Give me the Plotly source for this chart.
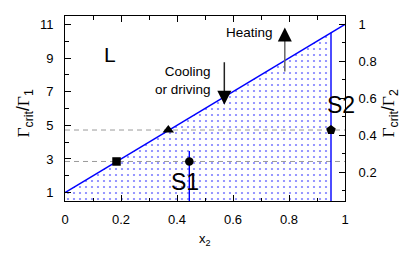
import plotly.graph_objects as go

# data
line_x = [0.0, 1.0]
line_y = [1.0, 11.0]
fill_x = [0.0, 0.95]
fill_y = [1.0, 10.5]
dash_levels = [2.85, 4.72]
square_pt = ([0.184], [2.85])
triangle_pt = ([0.369], [4.72])
circle_pt = ([0.444], [2.85])
pentagon_pt = ([0.95], [4.72])
s1_x = [0.444, 0.444]
s1_y = [0.5, 3.47]
s2_x = [0.95, 0.95]
s2_y = [0.5, 10.5]
heat_x = [0.785, 0.785]
heat_y = [8.2, 10.82]
cool_x = [0.569, 0.569]
cool_y = [8.75, 6.22]
x_ticks = [0, 0.2, 0.4, 0.6, 0.8, 1]
y_ticks = [1, 3, 5, 7, 9, 11]
y2_ticks = [0.2, 0.4, 0.6, 0.8, 1]

BLUE = "#0000ff"
FONT = "Liberation Sans, Arial, sans-serif"

fig = go.Figure()
fig.add_trace(go.Scatter(x=fill_x, y=fill_y, mode="none", fill="tozeroy",
                         fillcolor="rgba(0,0,0,0)",
                         fillpattern=dict(shape=".", fgcolor=BLUE, bgcolor="rgba(0,0,0,0)",
                                          size=6, solidity=0.11),
                         hoverinfo="skip"))
for lv in dash_levels:
    fig.add_trace(go.Scatter(x=[0, 1], y=[lv, lv], mode="lines",
                             line=dict(color="#9a9a9a", width=1, dash="5px,4px")))
fig.add_trace(go.Scatter(x=line_x, y=line_y, mode="lines", line=dict(color=BLUE, width=1.4)))
fig.add_trace(go.Scatter(x=s1_x, y=s1_y, mode="lines", line=dict(color=BLUE, width=1.4)))
fig.add_trace(go.Scatter(x=s2_x, y=s2_y, mode="lines", line=dict(color=BLUE, width=1.4)))
fig.add_trace(go.Scatter(x=heat_x, y=[heat_y[0], heat_y[1] - 0.6], mode="lines",
                         line=dict(color="#666666", width=1.5)))
fig.add_trace(go.Scatter(x=cool_x, y=[cool_y[0], cool_y[1] + 0.6], mode="lines",
                         line=dict(color="#222222", width=1.5)))
fig.add_trace(go.Scatter(x=[heat_x[1]], y=[heat_y[1]], mode="markers",
                         marker=dict(symbol="arrow-up", size=14, color="black",
                                     line=dict(width=0))))
fig.add_trace(go.Scatter(x=[cool_x[1]], y=[cool_y[1]], mode="markers",
                         marker=dict(symbol="arrow-down", size=14, color="black",
                                     line=dict(width=0))))
for pt, sym, sz in [(square_pt, "square", 8.5), (triangle_pt, "triangle-up", 10),
                    (circle_pt, "circle", 8.5), (pentagon_pt, "pentagon", 10)]:
    fig.add_trace(go.Scatter(x=pt[0], y=pt[1], mode="markers",
                             marker=dict(symbol=sym, size=sz, color="black")))
# invisible trace for y2
fig.add_trace(go.Scatter(x=[0], y=[0.5], yaxis="y2", mode="markers",
                         marker=dict(opacity=0), hoverinfo="skip"))

axis_common = dict(showline=True, linecolor="black", linewidth=1, ticks="inside",
                   tickcolor="black", ticklen=6, showgrid=False, zeroline=False,
                   tickfont=dict(family=FONT, size=13, color="black"))
fig.update_layout(
    width=407, height=251, margin=dict(l=57, r=70, t=8, b=58),
    plot_bgcolor="white", paper_bgcolor="white", showlegend=False,
    xaxis=dict(range=[0, 1], tickvals=x_ticks, ticktext=[f"{v:g}" for v in x_ticks],
               mirror="ticks", ticklabelstandoff=6,
               minor=dict(dtick=0.1, tick0=0, ticks="inside", ticklen=3.5, tickcolor="black"),
               **axis_common),
    yaxis=dict(range=[0.5, 11.5], tickvals=y_ticks, ticklabelstandoff=8,
               minor=dict(dtick=1, tick0=0, ticks="inside", ticklen=3.5, tickcolor="black"),
               **axis_common),
    yaxis2=dict(range=[0.5 / 11, 11.5 / 11], overlaying="y", side="right",
                tickvals=y2_ticks, ticktext=[f"{v:g}" for v in y2_ticks], ticklabelstandoff=10,
                minor=dict(dtick=0.1, tick0=0, ticks="inside", ticklen=3.5, tickcolor="black"),
                **axis_common),
)

GAM = "<span style='font-family:Liberation Serif, Times New Roman, serif'>Γ</span>"
ann = [
    dict(text="L", x=0.16, y=9.2, xref="x", yref="y", font=dict(size=21)),
    dict(text="S1", x=0.43, y=1.63, xref="x", yref="y", font=dict(size=23)),
    dict(text="S2", x=0.985, y=6.2, xref="x", yref="y", font=dict(size=23)),
    dict(text="Heating", x=0.749, y=10.5, xref="x", yref="y", xanchor="right", font=dict(size=13.5)),
    dict(text="Cooling<br>or driving", x=0.527, y=7.65, xref="x", yref="y", xanchor="right",
         align="right", font=dict(size=13.5)),
    dict(text="x<sub>2</sub>", x=0.5, y=-0.2, xref="paper", yref="paper", yanchor="middle",
         yshift=-1, font=dict(size=13)),
    dict(text=f"{GAM}<sub>crit</sub>/{GAM}<sub>1</sub>", x=0, xref="paper", xshift=-54,
         y=0.47, yref="paper", textangle=-90, font=dict(size=17.5)),
    dict(text=f"{GAM}<sub>crit</sub>/{GAM}<sub>2</sub>", x=1, xref="paper", xshift=58,
         y=0.47, yref="paper", textangle=-90, font=dict(size=17.5)),
]
for a in ann:
    a.setdefault("showarrow", False)
    a["font"] = dict(family=FONT, color="black", **a["font"])
    fig.add_annotation(**a)

fig.write_html("out.html")
